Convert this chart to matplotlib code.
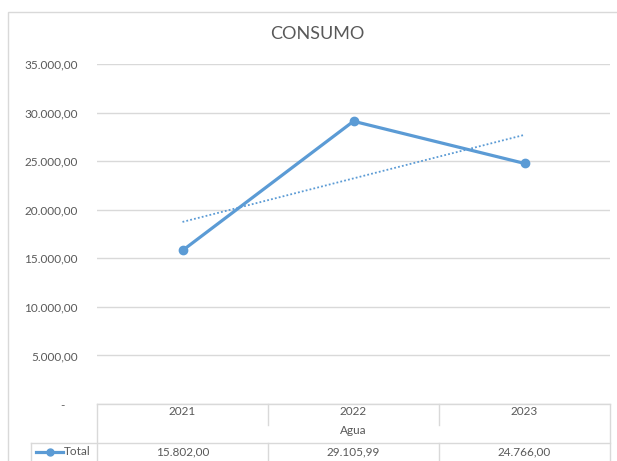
import numpy as np
import matplotlib
matplotlib.use('Agg')
import matplotlib.pyplot as plt
from matplotlib.lines import Line2D
from matplotlib.patches import Rectangle

# Data
years = ['2021', '2022', '2023']
group_label = 'Agua'
series_name = 'Total'
total = [15802.00, 29105.99, 24766.00]
yticks = [0, 5000, 10000, 15000, 20000, 25000, 30000, 35000]

blue = '#5B9BD5'
grey_txt = '#595959'
grid_col = '#D9D9D9'

plt.rcParams['font.family'] = ['Lato', 'DejaVu Sans']

W, H = 617, 461
fig = plt.figure(figsize=(W / 100, H / 100), dpi=100)

# chart area frame (cut off at right/bottom like the screenshot)
fig.add_artist(Rectangle((8 / W, -0.1), 1.2, 1.1 - 12 / H, transform=fig.transFigure,
                         fill=False, edgecolor=grid_col, linewidth=1))

ax = fig.add_axes([97 / W, (H - 404) / H, (610 - 97) / W, (404 - 64) / H])

def fmt(v):
    s = '{:,.2f}'.format(v)
    return s.replace(',', 'X').replace('.', ',').replace('X', '.')

x = np.arange(1, len(years) + 1)
ax.plot(x, total, '-o', color=blue, linewidth=2.3, markersize=6, zorder=3)

# linear trendline
k, b = np.polyfit(x, total, 1)
ax.plot(x, k * x + b, linestyle=(0, (1, 1.2)), color=blue, linewidth=1.3, zorder=2)

ax.set_xlim(0.5, len(years) + 0.5)
ax.set_ylim(0, 35000)
ax.set_yticks(yticks)
ax.set_yticklabels(['-' + ' ' * 4 if v == 0 else fmt(v) for v in yticks])
ax.tick_params(axis='y', length=0, pad=14, labelsize=8.5, labelcolor=grey_txt)
ax.set_xticks([])
ax.grid(axis='y', color=grid_col, linewidth=1)
for s in ax.spines.values():
    s.set_visible(False)

fig.text(317 / W, 1 - 34 / H, 'CONSUMO', ha='center', va='center', fontsize=13, color=grey_txt)

# data table under the plot
tr = ax.get_xaxis_transform()
n = len(years)
y_top, y_div, y_row, y_bot = 0.0, -0.062, -0.1147, -0.175
legend_left = 0.5 - 66 / 171
lk = dict(color=grid_col, linewidth=1, transform=tr, clip_on=False)
ax.add_line(Line2D([0.5, n + 0.5], [y_top, y_top], **lk))
ax.add_line(Line2D([legend_left, n + 0.5], [y_row, y_row], **lk))
ax.add_line(Line2D([0.5, 0.5], [y_top, y_bot], **lk))
ax.add_line(Line2D([n + 0.5, n + 0.5], [y_top, y_bot], **lk))
ax.add_line(Line2D([legend_left, legend_left], [y_row, y_bot], **lk))
for i in range(1, n):
    ax.add_line(Line2D([i + 0.5, i + 0.5], [y_top, y_div], **lk))
    ax.add_line(Line2D([i + 0.5, i + 0.5], [y_row, y_bot], **lk))

for xi, yr, v in zip(x, years, total):
    ax.text(xi, -0.0235, yr, transform=tr, ha='center', va='center', fontsize=8.5, color=grey_txt)
    ax.text(xi, -0.141, fmt(v), transform=tr, ha='center', va='center', fontsize=8.5, color=grey_txt)
ax.text((n + 1) / 2, -0.0765, group_label, transform=tr, ha='center', va='center',
        fontsize=8.5, color=grey_txt)

# legend key in table
lx0 = legend_left + 5 / 171
lx1 = legend_left + 32 / 171
ax.add_line(Line2D([lx0, lx1], [-0.141, -0.141], color=blue, linewidth=2.3,
                   transform=tr, clip_on=False))
ax.add_line(Line2D([(lx0 + lx1) / 2], [-0.141], marker='o', markersize=5, color=blue,
                   transform=tr, clip_on=False))
ax.text(lx1 + 1 / 171, -0.141, series_name, transform=tr, ha='left', va='center', fontsize=8.5,
        color=grey_txt)

fig.savefig('out.png', dpi=100)
